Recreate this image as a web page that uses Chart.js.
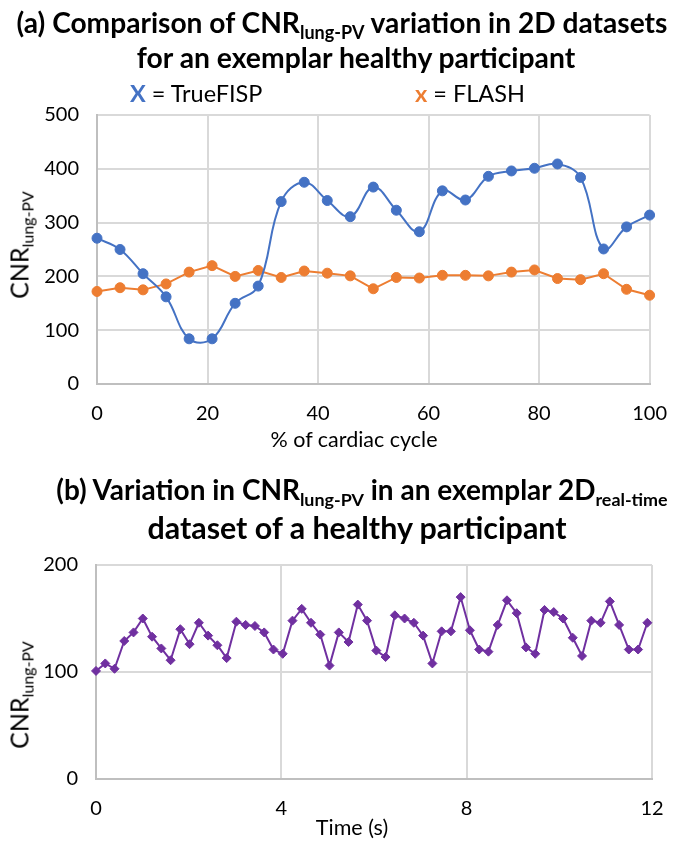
<!DOCTYPE html>
<html>
<head>
<meta charset="utf-8">
<script src="https://cdn.jsdelivr.net/npm/chart.js@4.4.0/dist/chart.umd.min.js"></script>
<style>
  body { margin: 0; background: #fff; }
  #wrap { position: relative; width: 685px; height: 843px; overflow: hidden; font-family: Lato, sans-serif; color: #000; }
  canvas { position: absolute; left: 0; }
  .txt { position: absolute; white-space: nowrap; line-height: 1; transform: translate(-50%, -50%); }
  .ttl { font-weight: bold; font-size: 25px; }
  .sub { font-size: 0.64em; position: relative; top: 0.32em; }
  .ylab { font-size: 25px; transform: translate(-50%, -50%) rotate(-90deg); }
  .xlab { font-size: 21.5px; }
  .leg { font-size: 23.5px; transform: translate(0, -50%); }
</style>
</head>
<body>
<div id="wrap">
  <canvas id="chartA" width="685" height="460" style="top:0"></canvas>
  <canvas id="chartB" width="685" height="383" style="top:460px"></canvas>

  <div class="txt ttl" id="a1" style="left:342px; top:22px">(a) Comparison of CNR<span class="sub">lung-PV</span> variation in 2D datasets</div>
  <div class="txt ttl" id="a2" style="left:356px; top:57px">for an exemplar healthy participant</div>
  <div class="txt leg" style="left:130px; top:94px"><b style="color:#4472C4">X</b> = TrueFISP</div>
  <div class="txt leg" style="left:415px; top:94px"><b style="color:#ED7D31">x</b> = FLASH</div>
  <div class="txt ylab" style="left:19px; top:245px">CNR<span class="sub">lung-PV</span></div>
  <div class="txt xlab" style="left:354px; top:440px">% of cardiac cycle</div>

  <div class="txt ttl" id="b1" style="left:362px; top:490px">(b) Variation in CNR<span class="sub">lung-PV</span> in an exemplar 2D<span class="sub">real-time</span></div>
  <div class="txt ttl" id="b2" style="left:357px; top:527px">dataset of a healthy participant</div>
  <div class="txt ylab" style="left:19px; top:695px">CNR<span class="sub">lung-PV</span></div>
  <div class="txt xlab" style="left:352px; top:828px">Time (s)</div>
</div>
<script>
// (a) % of cardiac cycle, 2D datasets
const cycleX = [0, 4.17, 8.33, 12.5, 16.67, 20.83, 25, 29.17, 33.33, 37.5, 41.67, 45.83, 50,
  54.17, 58.33, 62.5, 66.67, 70.83, 75, 79.17, 83.33, 87.5, 91.67, 95.83, 100];
const trueFisp = [271, 250, 205, 162, 84, 84, 150, 182, 339, 375, 341, 311, 366,
  323, 283, 359, 342, 386, 396, 401, 409, 384, 251, 292, 314];
const flash = [172, 179, 175, 186, 208, 220, 200, 211, 198, 210, 206, 201, 177,
  198, 197, 202, 202, 201, 208, 212, 196, 194, 205, 176, 165];
const ticksA = [0, 20, 40, 60, 80, 100];

// (b) real-time dataset
const timeS = [0.00, 0.20, 0.40, 0.61, 0.81, 1.01, 1.21, 1.41, 1.61, 1.82,
  2.02, 2.22, 2.42, 2.62, 2.82, 3.03, 3.23, 3.43, 3.63, 3.83,
  4.03, 4.24, 4.44, 4.64, 4.84, 5.04, 5.24, 5.45, 5.65, 5.85,
  6.05, 6.25, 6.45, 6.66, 6.86, 7.06, 7.26, 7.46, 7.66, 7.87,
  8.07, 8.27, 8.47, 8.67, 8.87, 9.08, 9.28, 9.48, 9.68, 9.88,
  10.08, 10.29, 10.49, 10.69, 10.89, 11.09, 11.29, 11.50, 11.70, 11.90];
const cnrRealTime = [101, 108, 103, 129, 137, 150, 133, 122, 111, 140,
  126, 146, 134, 125, 113, 147, 144, 143, 137, 121,
  117, 148, 159, 146, 135, 106, 137, 128, 163, 148,
  120, 114, 153, 150, 146, 134, 108, 138, 138, 170,
  139, 121, 119, 144, 167, 155, 123, 117, 158, 156,
  150, 132, 115, 148, 146, 166, 144, 121, 121, 146];
const ticksB = [0, 4, 8, 12];

const gridColor = '#d9d9d9';
const tickFont = { family: 'Lato', size: 20 };

function pts(xs, ys) {
  return xs.map((x, i) => ({ x: x, y: ys[i] }));
}

function axis(min, max, step, fit, pad) {
  return {
    type: 'linear', min: min, max: max,
    ticks: { stepSize: step, color: '#000', font: tickFont, padding: pad, maxRotation: 0 },
    grid: { color: gridColor, lineWidth: 2, drawTicks: false },
    border: { color: '#bfbfbf', width: 2 },
    afterFit: fit
  };
}

new Chart(document.getElementById('chartA'), {
  type: 'line',
  data: {
    datasets: [
      { label: 'TrueFISP', data: pts(cycleX, trueFisp), borderColor: '#4472C4', backgroundColor: '#4472C4',
        borderWidth: 2, pointRadius: 5, pointBorderWidth: 1, tension: 0.4, clip: false },
      { label: 'FLASH', data: pts(cycleX, flash), borderColor: '#ED7D31', backgroundColor: '#ED7D31',
        borderWidth: 2, pointRadius: 5, pointBorderWidth: 1, tension: 0, clip: false }
    ]
  },
  options: {
    responsive: false, animation: false, devicePixelRatio: 1,
    layout: { padding: { left: 0, right: 27, top: 115, bottom: 0 } },
    plugins: { legend: { display: false }, tooltip: { enabled: false } },
    scales: {
      x: axis(ticksA[0], ticksA[ticksA.length - 1], 20, s => { s.height = 76; }, 18),
      y: axis(0, 500, 100, s => { s.width = 97; }, 18)
    }
  }
});

new Chart(document.getElementById('chartB'), {
  type: 'line',
  data: {
    datasets: [
      { label: 'CNR', data: pts(timeS, cnrRealTime), borderColor: '#7030A0', backgroundColor: '#7030A0',
        borderWidth: 2, pointStyle: 'rectRot', pointRadius: 4.5, pointBorderWidth: 1, tension: 0, clip: false }
    ]
  },
  options: {
    responsive: false, animation: false, devicePixelRatio: 1,
    layout: { padding: { left: 0, right: 33, top: 105, bottom: 0 } },
    plugins: { legend: { display: false }, tooltip: { enabled: false } },
    scales: {
      x: axis(ticksB[0], ticksB[ticksB.length - 1], 4, s => { s.height = 64; }, 18),
      y: axis(0, 200, 100, s => { s.width = 96; }, 18)
    }
  }
});

// squeeze title lines to the widths in the picture
function fit(id, w) {
  const el = document.getElementById(id);
  const size = parseFloat(getComputedStyle(el).fontSize);
  el.style.fontSize = (size * w / el.offsetWidth) + 'px';
}
fit('a1', 651); fit('a2', 438); fit('b1', 611); fit('b2', 420);
</script>
</body>
</html>
